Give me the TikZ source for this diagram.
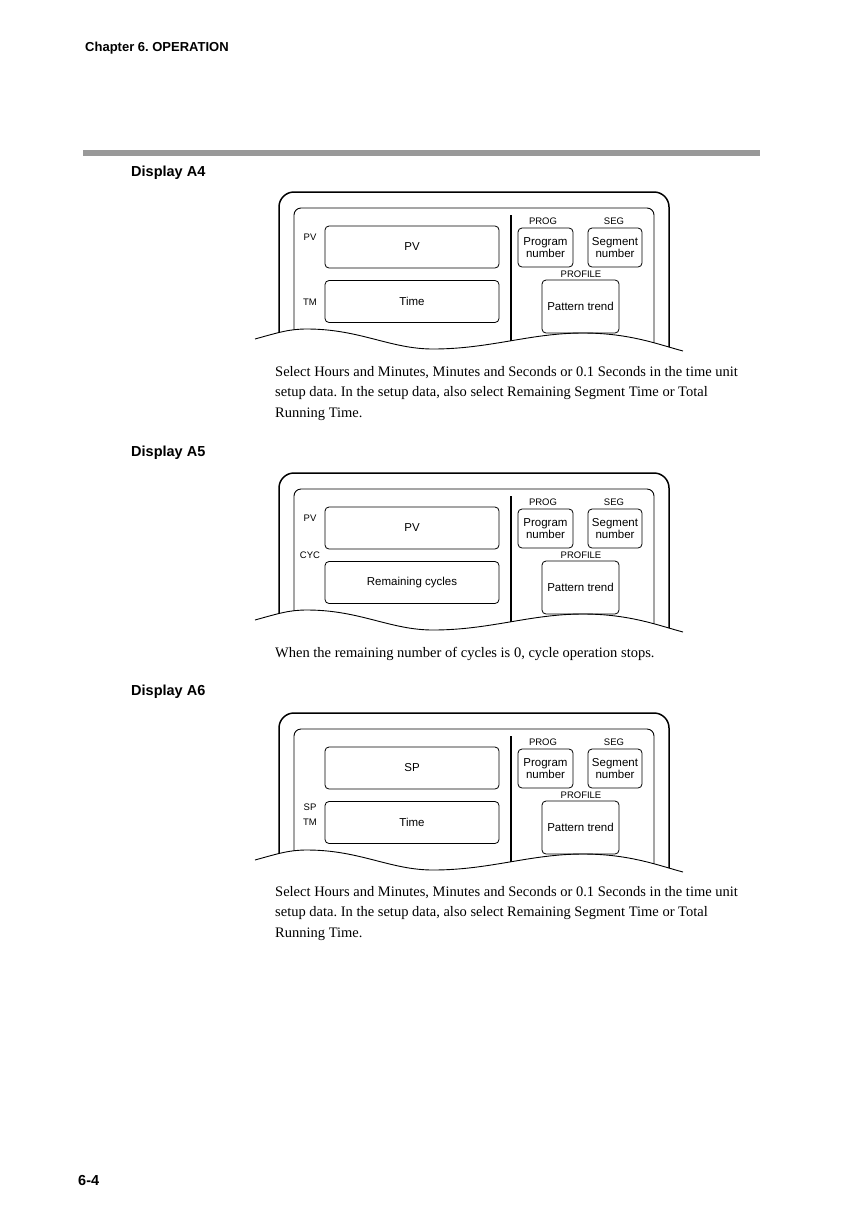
\documentclass[tikz,border=0pt]{standalone}
\usepackage{fontspec}
\setmainfont{Liberation Serif}
\setsansfont{Liberation Sans}
\usetikzlibrary{positioning}
\frenchspacing

% common frame of one display panel, #1 = suffix for node names
\newcommand{\dispframe}[1]{%
  \begin{scope}
    \clip (255,339) .. controls (280,332) and (290,329) .. (307,329)
      .. controls (360,329) and (390,349) .. (433,349)
      .. controls (490,349) and (530,333) .. (583,333)
      .. controls (630,333) and (660,345) .. (683,351)
      -- (683,180) -- (255,180) -- cycle;
    \draw[line width=1.5pt,rounded corners=15pt] (279,380) -- (279,192) -- (669,192) -- (669,380);
    \draw[line width=0.9pt,rounded corners=7pt] (294,380) -- (294,208) -- (654,208) -- (654,380);
    \draw[line width=1.3pt] (511,215) -- (511,380);
  \end{scope}
  \draw[line width=0.9pt] (255,339) .. controls (280,332) and (290,329) .. (307,329)
      .. controls (360,329) and (390,349) .. (433,349)
      .. controls (490,349) and (530,333) .. (583,333)
      .. controls (630,333) and (660,345) .. (683,351);
  \node[lbl] (prog#1) at (543,221) {PROG};
  \node[lbl] (seg#1) at (614,221) {SEG};
  \node[box,minimum width=55pt,minimum height=39pt] (pnum#1) at (545.5,247.5) {Program\\number};
  \node[box,minimum width=54pt,minimum height=39pt] (snum#1) at (615,247.5) {Segment\\number};
  \node[lbl] (profile#1) at (581,274) {PROFILE};
  \node[box,minimum width=77pt,minimum height=53pt] (trend#1) at (580.5,306.5) {Pattern trend};
}

\begin{document}
\begin{tikzpicture}[
    x=1pt,y=-1pt,
    box/.style={draw,line width=0.8pt,rounded corners=4pt,align=center,inner sep=1pt,
      font=\sffamily\fontsize{11.5}{11.5}\selectfont},
    wide/.style={box,minimum width=174pt,minimum height=42pt},
    lbl/.style={inner sep=0pt,font=\sffamily\fontsize{9.5}{10}\selectfont},
    head/.style={inner sep=0pt,anchor=west,font=\sffamily\bfseries\fontsize{14.5}{15}\selectfont},
    body/.style={inner sep=0pt,anchor=base west,align=left,
      font=\fontsize{14.5}{20.5}\selectfont}
  ]
  \useasboundingbox (0,0) rectangle (867,1227);
  \fill[white] (0,0) rectangle (867,1227);
  \node[head,font=\sffamily\bfseries\fontsize{13}{15}\selectfont] (chap) at (85,48) {Chapter 6. OPERATION};
  \fill[black!40] (83,150) rectangle (760,156);

  % Display A4
  \node[head] (hA4) at (131,173) {Display A4};
  \dispframe{A4}
  \node[lbl] (lpvA4) at (310,237) {PV};
  \node[wide] (pvA4) at (412,247) {PV};
  \node[lbl] (ltmA4) at (310,302) {TM};
  \node[wide] (tmA4) at (412,301.5) {Time};
  \node[body] (tA4) at (275,417) {Select Hours and Minutes, Minutes and Seconds or 0.1 Seconds in the time unit\\
    setup data. In the setup data, also select Remaining Segment Time or Total\\
    Running Time.};

  % Display A5
  \node[head] (hA5) at (131,453) {Display A5};
  \begin{scope}[shift={(0,281)}]
    \dispframe{A5}
    \node[lbl] (lpvA5) at (310,237) {PV};
    \node[wide] (pvA5) at (412,247) {PV};
    \node[lbl] (lcycA5) at (310,274) {CYC};
    \node[wide] (cycA5) at (412,301.5) {Remaining cycles};
  \end{scope}
  \node[body] (tA5) at (275,657) {When the remaining number of cycles is 0, cycle operation stops.};

  % Display A6
  \node[head] (hA6) at (131,692) {Display A6};
  \begin{scope}[shift={(0,521)}]
    \dispframe{A6}
    \node[wide] (spA6) at (412,247) {SP};
    \node[lbl,align=center,font=\sffamily\fontsize{9.5}{15}\selectfont] (ltmA6) at (310,294) {SP\\TM};
    \node[wide] (tmA6) at (412,301.5) {Time};
  \end{scope}
  \node[body] (tA6) at (275,937) {Select Hours and Minutes, Minutes and Seconds or 0.1 Seconds in the time unit\\
    setup data. In the setup data, also select Remaining Segment Time or Total\\
    Running Time.};

  \node[head] (page) at (78,1180) {6-4};
\end{tikzpicture}
\end{document}
